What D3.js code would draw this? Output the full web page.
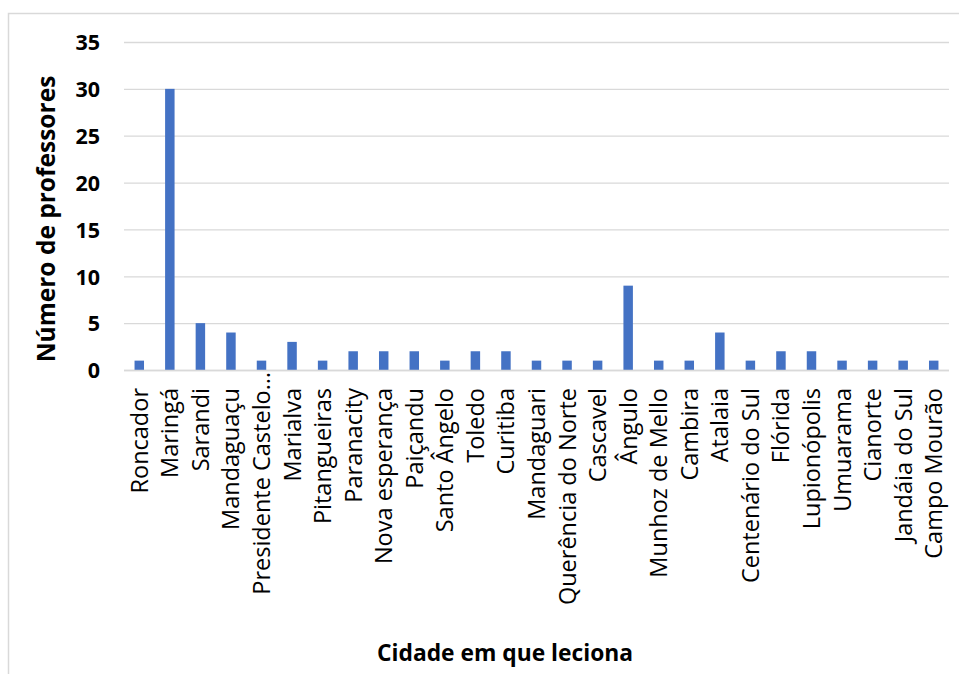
<!DOCTYPE html>
<html>
<head>
<meta charset="utf-8">
<script src="https://cdn.jsdelivr.net/npm/d3@7"></script>
<style>
  html, body { margin: 0; padding: 0; background: #fff; }
  svg { display: block; font-family: "Open Sans", sans-serif; }
</style>
</head>
<body>
<svg id="chart" width="959" height="674"></svg>
<script>
// Cities where the teachers work, and how many teachers in each
const cities = [
  "Roncador", "Maringá", "Sarandi", "Mandaguaçu", "Presidente Castelo…",
  "Marialva", "Pitangueiras", "Paranacity", "Nova esperança", "Paiçandu",
  "Santo Ângelo", "Toledo", "Curitiba", "Mandaguari", "Querência do Norte",
  "Cascavel", "Ângulo", "Munhoz de Mello", "Cambira", "Atalaia",
  "Centenário do Sul", "Flórida", "Lupionópolis", "Umuarama", "Cianorte",
  "Jandáia do Sul", "Campo Mourão"
];
const teachers = [1, 30, 5, 4, 1, 3, 1, 2, 2, 2, 1, 2, 2, 1, 1, 1, 9, 1, 1, 4, 1, 2, 2, 1, 1, 1, 1];
const yTicks = [0, 5, 10, 15, 20, 25, 30, 35];
const yTitle = "Número de professores";
const xTitle = "Cidade em que leciona";

const svg = d3.select("#chart");
const W = 959, H = 674;
const plot = { left: 124, right: 949, top: 42, bottom: 370 };
const gridColor = "#d9d9d9";
const barColor = "#4472c4";

// chart area frame (left and top edges)
svg.append("path")
  .attr("d", `M8.5,${H} V13.5 H${W}`)
  .attr("fill", "none")
  .attr("stroke", gridColor)
  .attr("stroke-width", 1.5);

const x = d3.scaleBand()
  .domain(cities)
  .range([plot.left, plot.right])
  .paddingInner(0.69)
  .paddingOuter(0.345);

const y = d3.scaleLinear()
  .domain([0, 35])
  .range([plot.bottom, plot.top]);

// horizontal gridlines and value labels
const yAxis = d3.axisLeft(y)
  .tickValues(yTicks)
  .tickSize(-(plot.right - plot.left))
  .tickPadding(24)
  .tickFormat(d3.format("d"));

const gy = svg.append("g")
  .attr("transform", `translate(${plot.left},0)`)
  .call(yAxis);
gy.select(".domain").remove();
gy.selectAll(".tick line")
  .attr("stroke", gridColor)
  .attr("stroke-width", 1.3);
gy.selectAll(".tick text")
  .attr("fill", "#000")
  .attr("font-family", "Open Sans, sans-serif")
  .attr("font-weight", "bold")
  .attr("font-size", 21.5)
  .attr("dy", "0.36em");

// bars
svg.append("g")
  .selectAll("rect")
  .data(cities)
  .join("rect")
  .attr("x", d => x(d))
  .attr("width", x.bandwidth())
  .attr("y", (d, i) => y(teachers[i]))
  .attr("height", (d, i) => y(0) - y(teachers[i]))
  .attr("fill", barColor);

// category axis
const xAxis = d3.axisBottom(x).tickSize(0).tickPadding(0);
const gx = svg.append("g")
  .attr("transform", `translate(0,${plot.bottom})`)
  .call(xAxis);
gx.select(".domain")
  .attr("stroke", gridColor)
  .attr("stroke-width", 1.3)
  .attr("d", `M${plot.left},0.5H${plot.right}`);
gx.selectAll(".tick text")
  .attr("fill", "#000")
  .attr("font-family", "Open Sans, sans-serif")
  .attr("font-size", 23.5)
  .attr("text-anchor", "end")
  .attr("dy", "0.36em")
  // truncated names start right at the axis, the others leave a gap
  .attr("transform", d => `translate(0,${d.endsWith("…") ? 2 : 18}) rotate(-90)`);

// axis titles
svg.append("text")
  .attr("transform", `translate(46,219) rotate(-90)`)
  .attr("text-anchor", "middle")
  .attr("dy", "0.36em")
  .attr("font-weight", "bold")
  .attr("font-size", 24.5)
  .text(yTitle);

svg.append("text")
  .attr("x", 505)
  .attr("y", 661)
  .attr("text-anchor", "middle")
  .attr("font-weight", "bold")
  .attr("font-size", 22.8)
  .text(xTitle);
</script>
</body>
</html>
